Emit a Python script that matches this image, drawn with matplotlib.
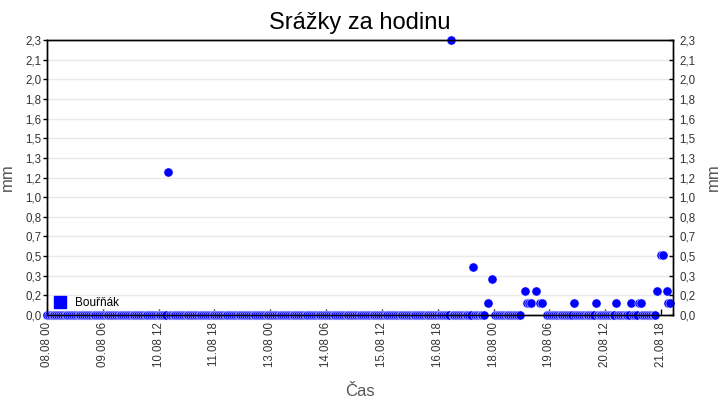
import numpy as np
import pandas as pd
import matplotlib
matplotlib.use("Agg")
import matplotlib.pyplot as plt
import matplotlib.dates as mdates
from matplotlib.lines import Line2D

plt.rcParams['font.family'] = ['Liberation Sans', 'DejaVu Sans']

# ---- data (hourly precipitation, mm) ----
start = "2023-08-08 00:00"
n_hours = 336
series_name = "Bouřňák"
# hours (index from start) with non-zero rain and their values
rain_hours = [65, 217, 229, 237, 239, 257, 258, 259, 260, 263, 265, 266,
              283, 295, 306, 314, 318, 319, 328, 330, 331, 333, 334, 335]
rain_mm = [1.2, 2.3, 0.4, 0.1, 0.3, 0.2, 0.1, 0.1, 0.1, 0.2, 0.1, 0.1,
           0.1, 0.1, 0.1, 0.1, 0.1, 0.1, 0.2, 0.5, 0.5, 0.2, 0.1, 0.1]
# hours without a record
missing_hours = [236, 238, 240, 255, 256, 261, 262, 264, 267, 268, 329, 332]
# all other hours: 0.0 mm

y_tick_labels = ['0,0', '0,2', '0,3', '0,5', '0,7', '0,8', '1,0', '1,2',
                 '1,3', '1,5', '1,6', '1,8', '2,0', '2,1', '2,3']
y_max = 2.3
x_tick_step_hours = 30

times = pd.date_range(start, periods=n_hours, freq="h")
values = np.zeros(n_hours)
values[rain_hours] = rain_mm
values[missing_hours] = np.nan

# ---- figure ----
W, H = 720, 400
fig = plt.figure(figsize=(W / 100, H / 100), dpi=100)
L, R, T, B = 47, 672.7, 40, 315
ax = fig.add_axes([L / W, 1 - B / H, (R - L) / W, (B - T) / H])

blue = '#0000ff'
ax.plot(times, values, linestyle='none', marker='o', ms=6.6,
        mfc=blue, mec='white', mew=0.35, clip_on=False, zorder=3)

ax.set_xlim(times[0], times[0] + pd.Timedelta(hours=336.3))
ax.set_ylim(0, y_max)

yt = np.linspace(0, y_max, len(y_tick_labels))
ax.set_yticks(yt)
ax.set_yticklabels(y_tick_labels)
ax.yaxis.grid(True, color='#e9e9e9', lw=1, zorder=0)
ax.set_axisbelow(True)

xt = pd.date_range(start, times[-1], freq=f"{x_tick_step_hours}h")
ax.set_xticks(xt)
ax.xaxis.set_major_formatter(mdates.DateFormatter('%d.%m %H'))
plt.setp(ax.get_xticklabels(), rotation=90)

tick_col = '#333333'
ax.tick_params(axis='x', direction='in', length=4, width=1, pad=5,
               labelsize=8.3, labelcolor=tick_col, color='black')
ax.tick_params(axis='y', direction='out', length=3, width=1, pad=1,
               labelsize=8.3, labelcolor=tick_col, color='black')
for s in ax.spines.values():
    s.set_color('black')
    s.set_linewidth(1)

ax2 = ax.twinx()
ax2.set_ylim(0, y_max)
ax2.set_yticks(yt)
ax2.set_yticklabels(y_tick_labels)
ax2.tick_params(axis='y', direction='in', length=3, width=1, pad=5,
                labelsize=8.3, labelcolor=tick_col, color='black')
for s in ax2.spines.values():
    s.set_color('black')
    s.set_linewidth(1)

lab_col = '#555555'
ax.set_ylabel('mm', fontsize=12, color=lab_col)
ax.yaxis.set_label_coords((15 - L) / (R - L), 0.5)
ax2.set_ylabel('mm', fontsize=12, color=lab_col)
ax2.yaxis.set_label_coords((706 - L) / (R - L), 0.5)
ax.set_xlabel('Čas', fontsize=12, color=lab_col)
ax.xaxis.set_label_coords(0.5, (B - 384) / (B - T))

fig.text(0.5, 1 - 23 / H, 'Srážky za hodinu', ha='center', va='center',
         fontsize=17, color='black')

handle = Line2D([], [], linestyle='none', marker='s', ms=8, color=blue)
ax.legend([handle], [series_name], loc='lower left',
          bbox_to_anchor=((54 - L) / (R - L), (B - 309) / (B - T)),
          frameon=False, fontsize=8.5, handlelength=1, handletextpad=0.8,
          borderpad=0, borderaxespad=0)

fig.savefig('out.png', dpi=100)
